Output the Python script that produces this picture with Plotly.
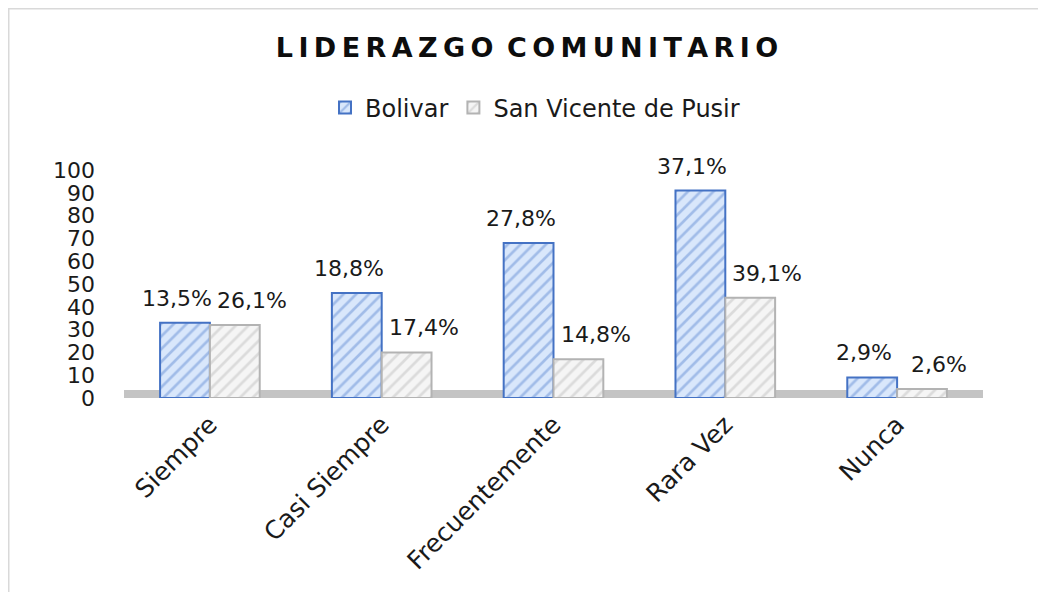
import plotly.graph_objects as go

categories = ["Siempre", "Casi Siempre", "Frecuentemente", "Rara Vez", "Nunca"]
bolivar_values = [33, 46, 68, 91, 9]
sanvicente_values = [32, 20, 17, 44, 4]
bolivar_labels = ["13,5%", "18,8%", "27,8%", "37,1%", "2,9%"]
sanvicente_labels = ["26,1%", "17,4%", "14,8%", "39,1%", "2,6%"]
y_ticks = [0, 10, 20, 30, 40, 50, 60, 70, 80, 90, 100]

# page body has an 8px margin, so positions below are page pixel - 8
W, H = 1046, 592
ML, MR, MT, MB = 116, 71, 162, 202
FONT = "'DejaVu Sans', sans-serif"
TXT = "#1a1a1a"

fig = go.Figure()
fig.add_trace(go.Bar(
    name="Bolivar", x=categories, y=bolivar_values,
    marker=dict(color="#d6e5fa",
                line=dict(color="#4472c4", width=2),
                pattern=dict(shape="/", fgcolor="#6a92d6", bgcolor="#d9e7fb",
                             size=9, solidity=0.3)),
))
fig.add_trace(go.Bar(
    name="San Vicente de Pusir", x=categories, y=sanvicente_values,
    marker=dict(color="#f2f2f2",
                line=dict(color="#b3b3b3", width=2),
                pattern=dict(shape="/", fgcolor="#c2c2c2", bgcolor="#f5f5f5",
                             size=9, solidity=0.3)),
))

# data labels placed at each bar's value
for cat, v, lab in zip(categories, bolivar_values, bolivar_labels):
    fig.add_annotation(x=cat, y=v, text=lab, showarrow=False,
                       xshift=-33, yshift=10, yanchor="bottom",
                       font=dict(size=22, color=TXT, family=FONT))
for cat, v, lab in zip(categories, sanvicente_values, sanvicente_labels):
    fig.add_annotation(x=cat, y=v, text=lab, showarrow=False,
                       xshift=42, yshift=10, yanchor="bottom",
                       font=dict(size=22, color=TXT, family=FONT))

pw = W - ML - MR
ph = H - MT - MB
# chart frame (light gray border)
fig.add_shape(type="rect", xref="paper", yref="paper",
              x0=(0.5 - ML) / pw, x1=(1100 - ML) / pw,
              y0=(H - MB - 700) / ph, y1=(H - MB - 0.5) / ph,
              line=dict(color="#d9d9d9", width=2), fillcolor="rgba(0,0,0,0)",
              layer="below")
# gray floor
fig.add_shape(type="rect", xref="paper", yref="y",
              x0=0, x1=1.0, y0=-1, y1=3.5,
              line=dict(width=0), fillcolor="#c4c4c4", layer="below")

sp = "\u2009"
title_txt = sp.join("LIDERAZGO") + "\u2002" + sp.join("COMUNITARIO")

fig.update_layout(
    width=W, height=H,
    paper_bgcolor="white", plot_bgcolor="white",
    margin=dict(l=ML, r=MR, t=MT, b=MB, autoexpand=False),
    font=dict(family=FONT, color=TXT),
    title=dict(text="<b>" + title_txt + "</b>",
               x=519 / W, xref="container", xanchor="center",
               y=1 - 40 / H, yref="container", yanchor="middle",
               font=dict(size=27, color="#0d0d0d", family=FONT)),
    legend=dict(orientation="h", x=527 / W, xanchor="center", xref="container",
                y=1 - 100 / H, yref="container", yanchor="middle",
                font=dict(size=24, family=FONT, color=TXT),
                traceorder="normal", itemwidth=30),
    barmode="group", bargap=0.42, bargroupgap=0.0,
    xaxis=dict(tickangle=-45, tickfont=dict(size=25, family=FONT, color=TXT),
               showgrid=False, showline=False, ticks="",
               range=[-0.5, 4.5], automargin=False, ticklabelstandoff=6),
    yaxis=dict(range=[0, 100], tickvals=y_ticks, showgrid=False, zeroline=False,
               showline=False, ticks="", tickfont=dict(size=22, family=FONT, color=TXT),
               ticklabelstandoff=28, automargin=False),
)

fig.write_html("out.html")
